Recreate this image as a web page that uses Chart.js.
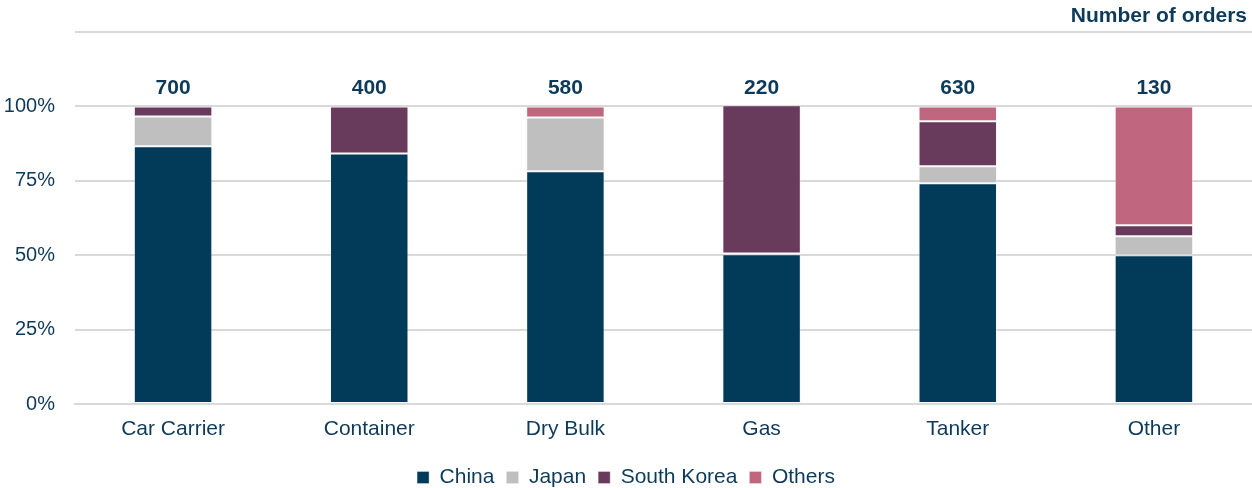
<!DOCTYPE html>
<html>
<head>
<meta charset="utf-8">
<script src="https://cdn.jsdelivr.net/npm/chart.js@4"></script>
<style>
  html, body { margin: 0; padding: 0; background: #ffffff; }
  #wrap { position: relative; width: 1252px; height: 488px; }
</style>
</head>
<body>
<div id="wrap"><canvas id="chart"></canvas></div>
<script>
// Ship types on order and share of orders by builder country (%)
const categories = ['Car Carrier', 'Container', 'Dry Bulk', 'Gas', 'Tanker', 'Other'];
const china      = [86.6, 84.2, 78.2, 50.3, 74.2, 50.0];
const japan      = [10.0, 0.0, 18.1, 0.3, 5.7, 6.4];
const southKorea = [3.4, 15.8, 0.0, 49.8, 15.1, 3.7];
const others     = [0.0, 0.0, 3.7, 0.0, 5.0, 39.9];
// Number of orders per ship type
const orderTotals = [700, 400, 580, 220, 630, 130];
const yTicks = [0, 25, 50, 75, 100, 125];
const unitTitle = 'Number of orders';

const textColor = '#0e3a5a';
const gridColor = '#d9d9d9';
const FONT = '"Liberation Sans", Arial, sans-serif';

// Order counts above each stack, plus the unit caption at the top right
const totalsLabels = {
  id: 'totalsLabels',
  afterDatasetsDraw(chart) {
    const { ctx, scales: { x, y } } = chart;
    ctx.save();
    ctx.font = 'bold 21px ' + FONT;
    ctx.fillStyle = textColor;
    ctx.textAlign = 'center';
    ctx.textBaseline = 'bottom';
    orderTotals.forEach((t, i) => {
      ctx.fillText(String(t), x.getPixelForValue(i), y.getPixelForValue(100) - 8);
    });
    ctx.textAlign = 'right';
    ctx.textBaseline = 'middle';
    ctx.fillText(unitTitle, chart.width - 5, 16);
    ctx.restore();
  }
};

const mk = (label, data, color) => ({
  label, data,
  backgroundColor: color,
  borderColor: 'rgba(235,235,240,0.4)',
  borderWidth: 1,
  borderSkipped: false,
  categoryPercentage: 0.8,
  barPercentage: 0.5
});

new Chart(document.getElementById('chart'), {
  type: 'bar',
  data: {
    labels: categories,
    datasets: [
      mk('China', china, '#023a5a'),
      mk('Japan', japan, '#bfbfbf'),
      mk('South Korea', southKorea, '#683a5b'),
      mk('Others', others, '#c0677f')
    ]
  },
  options: {
    responsive: true,
    maintainAspectRatio: false,
    animation: false,
    layout: { padding: { left: 0, right: 0, top: 30, bottom: -10 } },
    plugins: {
      legend: {
        position: 'bottom',
        labels: {
          color: textColor,
          boxWidth: 12,
          boxHeight: 12,
          padding: 12,
          font: { family: FONT, size: 21 }
        }
      },
      tooltip: { enabled: false }
    },
    scales: {
      x: {
        stacked: true,
        grid: { display: false },
        border: { color: gridColor, width: 2 },
        afterFit(axis) { axis.height = 51; },
        ticks: {
          color: textColor,
          padding: 5,
          font: { family: FONT, size: 21 }
        }
      },
      y: {
        stacked: true,
        min: 0,
        max: 125,
        afterBuildTicks(axis) { axis.ticks = yTicks.map(v => ({ value: v })); },
        afterFit(axis) { axis.width = 75; },
        grid: { color: gridColor, lineWidth: 2, drawTicks: false },
        border: { display: false },
        ticks: {
          color: textColor,
          padding: 20,
          font: { family: FONT, size: 20 },
          callback: v => (v > 100 ? '' : v + '%')
        }
      }
    }
  },
  plugins: [totalsLabels]
});
</script>
</body>
</html>
